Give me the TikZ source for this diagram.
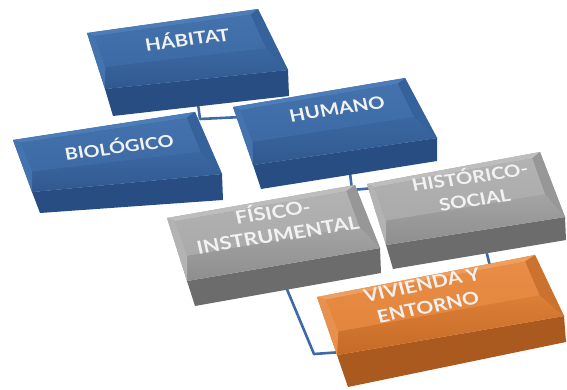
\documentclass[tikz,border=0pt]{standalone}
\usepackage{fontspec}
\setmainfont{Lato}
\usetikzlibrary{calc}
% blue set
\definecolor{bluefront}{HTML}{274D82}
\definecolor{bluebase}{HTML}{3B67A1}
\definecolor{bluebot}{HTML}{30598F}
\definecolor{bluetopbev}{HTML}{4D7DB9}
\definecolor{blueleft}{HTML}{4474B0}
\definecolor{blueright}{HTML}{36629C}
\definecolor{blueflat}{HTML}{4372AD}
\definecolor{blueflat2}{HTML}{3D6AA5}
% gray set
\definecolor{grayfront}{HTML}{6C6C6C}
\definecolor{graybase}{HTML}{A4A4A4}
\definecolor{graybot}{HTML}{8E8E8E}
\definecolor{graytopbev}{HTML}{BDBDBD}
\definecolor{grayleft}{HTML}{B3B3B3}
\definecolor{grayright}{HTML}{979797}
\definecolor{grayflat}{HTML}{B2B2B2}
\definecolor{grayflat2}{HTML}{AAAAAA}
% orange set
\definecolor{orangefront}{HTML}{AB5A1F}
\definecolor{orangebase}{HTML}{DC7F37}
\definecolor{orangebot}{HTML}{C56B26}
\definecolor{orangetopbev}{HTML}{EE9E5E}
\definecolor{orangeleft}{HTML}{E8914E}
\definecolor{orangeright}{HTML}{CB722E}
\definecolor{orangeflat}{HTML}{E88D46}
\definecolor{orangeflat2}{HTML}{E3853D}
\definecolor{connblue}{HTML}{3D6AA6}
\definecolor{lbltext}{HTML}{F2F2F2}

\newcommand\bpt[4]{%
  \coordinate (#1-L) at ($(#1-a)!#4!(#1-d)$);
  \coordinate (#1-R) at ($(#1-b)!#4!(#1-c)$);
  \coordinate (#1-#2) at ($(#1-L)!#3!(#1-R)$);}
\newcommand\bevbox[2]{%
  \bpt{#1}{ia}{0.035}{0.07}
  \bpt{#1}{ib}{0.945}{0.07}
  \bpt{#1}{ic}{0.94}{0.62}
  \bpt{#1}{id}{0.04}{0.62}
  \fill[#2front] (#1-d) -- (#1-c) -- (#1-e) -- (#1-f) -- cycle;
  \fill[#2base] (#1-a) -- (#1-b) -- (#1-c) -- (#1-d) -- cycle;
  \shade[top color=#2base, bottom color=#2bot] (#1-id) -- (#1-ic) -- (#1-c) -- (#1-d) -- cycle;
  \fill[#2topbev] (#1-a) -- (#1-b) -- (#1-ib) -- (#1-ia) -- cycle;
  \fill[#2left] (#1-a) -- (#1-ia) -- (#1-id) -- (#1-d) -- cycle;
  \fill[#2right] (#1-b) -- (#1-c) -- (#1-ic) -- (#1-ib) -- cycle;
  \shade[top color=#2flat, bottom color=#2flat2] (#1-ia) -- (#1-ib) -- (#1-ic) -- (#1-id) -- cycle;}
\newcommand\boxtext[5]{%
  \node[lbl, font=\fontsize{#4}{23}\selectfont\bfseries, rotate=#3] (#1) at (#2) {#5};}

\begin{document}
\begin{tikzpicture}[x=1pt,y=-1pt,
  conn/.style={draw=connblue, line width=2.6pt, line join=round},
  lbl/.style={text=lbltext, align=center, xscale=1.2, inner sep=0pt}]
\useasboundingbox (0,0) rectangle (567,390);

% box corner coordinates
\coordinate (h-a) at (87,33);  \coordinate (h-b) at (258,9);  \coordinate (h-c) at (288,70);
\coordinate (h-d) at (105,89); \coordinate (h-e) at (289,96); \coordinate (h-f) at (113,116);
\coordinate (b-a) at (13,140); \coordinate (b-b) at (195,112); \coordinate (b-c) at (222,174);
\coordinate (b-d) at (32,192); \coordinate (b-e) at (223,200); \coordinate (b-f) at (40,213);
\coordinate (u-a) at (233,107); \coordinate (u-b) at (405,78); \coordinate (u-c) at (437,138);
\coordinate (u-d) at (253,165); \coordinate (u-e) at (437,161); \coordinate (u-f) at (261,189);
\coordinate (f-a) at (167,218); \coordinate (f-b) at (355,185); \coordinate (f-c) at (380,248);
\coordinate (f-d) at (187,281); \coordinate (f-e) at (381,273); \coordinate (f-f) at (195,306);
\coordinate (s-a) at (367,184); \coordinate (s-b) at (540,152); \coordinate (s-c) at (565,217);
\coordinate (s-d) at (386,245); \coordinate (s-e) at (566,240); \coordinate (s-f) at (393,269);
\coordinate (v-a) at (317,297); \coordinate (v-b) at (535,255); \coordinate (v-c) at (564,316);
\coordinate (v-d) at (337,355); \coordinate (v-e) at (566,342); \coordinate (v-f) at (348,387);

% connector points
\coordinate (c1s) at (198,104); \coordinate (c1j) at (200,119); \coordinate (c1e) at (242,117);
\coordinate (c2s) at (350,173); \coordinate (c2j) at (352,190); \coordinate (c2e) at (374,188);
\coordinate (c3s) at (286,287); \coordinate (c3j) at (314,354); \coordinate (c3e) at (342,352);
\coordinate (c4s) at (486,250); \coordinate (c4e) at (491,270);

\draw[conn] (c1s) -- (c1j) -- (c1e);
\draw[conn] (c2s) -- (c2j) -- (c2e);
\draw[conn] (c3s) -- (c3j) -- (c3e);
\draw[conn] (c4s) -- (c4e);

\bevbox{h}{blue}
\bevbox{u}{blue}
\bevbox{b}{blue}
\bevbox{s}{gray}
\bevbox{f}{gray}
\bevbox{v}{orange}

\coordinate (p-h) at (187,38);
\coordinate (p-b) at (119,146);
\coordinate (p-u) at (337,109);
\coordinate (p-f) at (275,222);
\coordinate (p-s) at (472,187);
\coordinate (p-v) at (425,296);

\boxtext{habitat}{p-h}{8.5}{17}{HÁBITAT}
\boxtext{biologico}{p-b}{9}{16.5}{BIOLÓGICO}
\boxtext{humano}{p-u}{10.5}{17}{HUMANO}
\boxtext{fisico}{p-f}{10.6}{18}{FÍSICO-\\INSTRUMENTAL}
\boxtext{historico}{p-s}{10}{17}{HISTÓRICO-\\SOCIAL}
\boxtext{vivienda}{p-v}{13}{17.5}{VIVIENDA Y\\ENTORNO}
\end{tikzpicture}
\end{document}
